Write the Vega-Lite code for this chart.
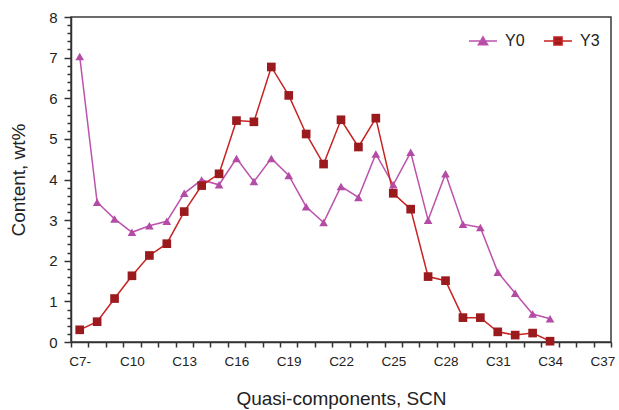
{
  "$schema": "https://vega.github.io/schema/vega-lite/v6.json",
  "width": 540,
  "height": 325,
  "autosize": {"type": "none"},
  "padding": {"left": 71, "top": 17, "right": 8, "bottom": 68},
  "background": "white",
  "config": {
    "font": "Liberation Sans",
    "view": {"stroke": "#3a3a3a", "strokeWidth": 1.5}
  },
  "data": {
    "values": [
      {"scn": "C7-", "series": "Y0", "content": 7.03},
      {"scn": "C8", "series": "Y0", "content": 3.44},
      {"scn": "C9", "series": "Y0", "content": 3.03},
      {"scn": "C10", "series": "Y0", "content": 2.7},
      {"scn": "C11", "series": "Y0", "content": 2.86},
      {"scn": "C12", "series": "Y0", "content": 2.97},
      {"scn": "C13", "series": "Y0", "content": 3.66},
      {"scn": "C14", "series": "Y0", "content": 3.99},
      {"scn": "C15", "series": "Y0", "content": 3.87},
      {"scn": "C16", "series": "Y0", "content": 4.52},
      {"scn": "C17", "series": "Y0", "content": 3.95},
      {"scn": "C18", "series": "Y0", "content": 4.52},
      {"scn": "C19", "series": "Y0", "content": 4.1},
      {"scn": "C20", "series": "Y0", "content": 3.33},
      {"scn": "C21", "series": "Y0", "content": 2.94},
      {"scn": "C22", "series": "Y0", "content": 3.83},
      {"scn": "C23", "series": "Y0", "content": 3.56},
      {"scn": "C24", "series": "Y0", "content": 4.63},
      {"scn": "C25", "series": "Y0", "content": 3.87},
      {"scn": "C26", "series": "Y0", "content": 4.67},
      {"scn": "C27", "series": "Y0", "content": 3.0},
      {"scn": "C28", "series": "Y0", "content": 4.14},
      {"scn": "C29", "series": "Y0", "content": 2.9},
      {"scn": "C30", "series": "Y0", "content": 2.82},
      {"scn": "C31", "series": "Y0", "content": 1.72},
      {"scn": "C32", "series": "Y0", "content": 1.2},
      {"scn": "C33", "series": "Y0", "content": 0.69},
      {"scn": "C34", "series": "Y0", "content": 0.57},
      {"scn": "C7-", "series": "Y3", "content": 0.3},
      {"scn": "C8", "series": "Y3", "content": 0.5},
      {"scn": "C9", "series": "Y3", "content": 1.07},
      {"scn": "C10", "series": "Y3", "content": 1.63},
      {"scn": "C11", "series": "Y3", "content": 2.13},
      {"scn": "C12", "series": "Y3", "content": 2.42},
      {"scn": "C13", "series": "Y3", "content": 3.21},
      {"scn": "C14", "series": "Y3", "content": 3.85},
      {"scn": "C15", "series": "Y3", "content": 4.14},
      {"scn": "C16", "series": "Y3", "content": 5.45},
      {"scn": "C17", "series": "Y3", "content": 5.42},
      {"scn": "C18", "series": "Y3", "content": 6.77},
      {"scn": "C19", "series": "Y3", "content": 6.07},
      {"scn": "C20", "series": "Y3", "content": 5.12},
      {"scn": "C21", "series": "Y3", "content": 4.38},
      {"scn": "C22", "series": "Y3", "content": 5.47},
      {"scn": "C23", "series": "Y3", "content": 4.8},
      {"scn": "C24", "series": "Y3", "content": 5.51},
      {"scn": "C25", "series": "Y3", "content": 3.66},
      {"scn": "C26", "series": "Y3", "content": 3.27},
      {"scn": "C27", "series": "Y3", "content": 1.61},
      {"scn": "C28", "series": "Y3", "content": 1.51},
      {"scn": "C29", "series": "Y3", "content": 0.6},
      {"scn": "C30", "series": "Y3", "content": 0.6},
      {"scn": "C31", "series": "Y3", "content": 0.25},
      {"scn": "C32", "series": "Y3", "content": 0.17},
      {"scn": "C33", "series": "Y3", "content": 0.22},
      {"scn": "C34", "series": "Y3", "content": 0.02}
    ]
  },
  "encoding": {
    "x": {
      "field": "scn",
      "type": "ordinal",
      "sort": null,
      "scale": {
        "domain": ["C7-","C8","C9","C10","C11","C12","C13","C14","C15","C16","C17","C18","C19","C20","C21","C22","C23","C24","C25","C26","C27","C28","C29","C30","C31","C32","C33","C34","C35","C36","C37"],
        "paddingInner": 0,
        "paddingOuter": 0
      },
      "axis": {
        "title": "Quasi-components, SCN",
        "titleFontSize": 19,
        "titleFontWeight": "normal",
        "titleColor": "#222",
        "titlePadding": 22,
        "labelAngle": 0,
        "labelFontSize": 13.5,
        "labelColor": "#222",
        "labelPadding": 7,
        "labelExpr": "indexof(['C7-','C10','C13','C16','C19','C22','C25','C28','C31','C34','C37'], datum.value) >= 0 ? datum.label : ''",
        "tickBand": "extent",
        "tickSize": 5,
        "tickColor": "#333",
        "tickWidth": 1.5,
        "domainColor": "#333",
        "domainWidth": 1.5,
        "grid": false
      }
    },
    "y": {
      "field": "content",
      "type": "quantitative",
      "scale": {"domain": [0, 8], "nice": false},
      "axis": {
        "title": "Content, wt%",
        "titleFontSize": 19,
        "titleFontWeight": "normal",
        "titleColor": "#222",
        "titlePadding": 20,
        "values": [0,0.2,0.4,0.6,0.8,1,1.2,1.4,1.6,1.8,2,2.2,2.4,2.6,2.8,3,3.2,3.4,3.6,3.8,4,4.2,4.4,4.6,4.8,5,5.2,5.4,5.6,5.8,6,6.2,6.4,6.6,6.8,7,7.2,7.4,7.6,7.8,8],
        "tickCount": 100,
        "format": ".0f",
        "labelExpr": "abs(datum.value - round(datum.value)) < 0.001 ? datum.label : ''",
        "labelFontSize": 15,
        "labelColor": "#222",
        "labelPadding": 7,
        "tickSize": {"condition": {"test": "abs(datum.value - round(datum.value)) < 0.001", "value": 7}, "value": 4},
        "tickColor": "#333",
        "tickWidth": 1.5,
        "domainColor": "#333",
        "domainWidth": 1.5,
        "grid": false
      }
    }
  },
  "resolve": {"scale": {"fill": "independent"}, "legend": {"fill": "independent"}},
  "layer": [
    {
      "transform": [{"filter": "datum.series === 'Y0'"}],
      "mark": {"type": "line", "strokeWidth": 1.5, "color": "#BC52AC"}
    },
    {
      "transform": [{"filter": "datum.series === 'Y3'"}],
      "mark": {"type": "line", "strokeWidth": 1.5, "color": "#C82222"}
    },
    {
      "transform": [{"filter": "datum.series === 'Y0'"}],
      "mark": {"type": "point", "filled": true, "size": 75, "opacity": 1, "shape": "triangle-up"},
      "encoding": {
        "fill": {
          "field": "series",
          "type": "nominal",
          "scale": {"domain": ["Y0"], "range": ["#B44BA5"]},
          "legend": {
            "title": null,
            "orient": "none",
            "legendX": 397,
            "legendY": 9,
            "symbolType": "M-1,0H1M0,-0.3L0.33,0.27L-0.33,0.27Z",
            "symbolSize": 784,
            "symbolStrokeColor": "#BC52AC",
            "symbolStrokeWidth": 1.5,
            "symbolOpacity": 1,
            "labelFontSize": 16,
            "labelColor": "#222",
            "labelOffset": 7
          }
        }
      }
    },
    {
      "transform": [{"filter": "datum.series === 'Y3'"}],
      "mark": {"type": "point", "filled": true, "size": 75, "opacity": 1, "shape": "square"},
      "encoding": {
        "fill": {
          "field": "series",
          "type": "nominal",
          "scale": {"domain": ["Y3"], "range": ["#9B1A1E"]},
          "legend": {
            "title": null,
            "orient": "none",
            "legendX": 472,
            "legendY": 9,
            "symbolType": "M-1,0H1M-0.29,-0.29H0.29V0.29H-0.29Z",
            "symbolSize": 784,
            "symbolStrokeColor": "#C82222",
            "symbolStrokeWidth": 1.5,
            "symbolOpacity": 1,
            "labelFontSize": 16,
            "labelColor": "#222",
            "labelOffset": 7
          }
        }
      }
    }
  ]
}
